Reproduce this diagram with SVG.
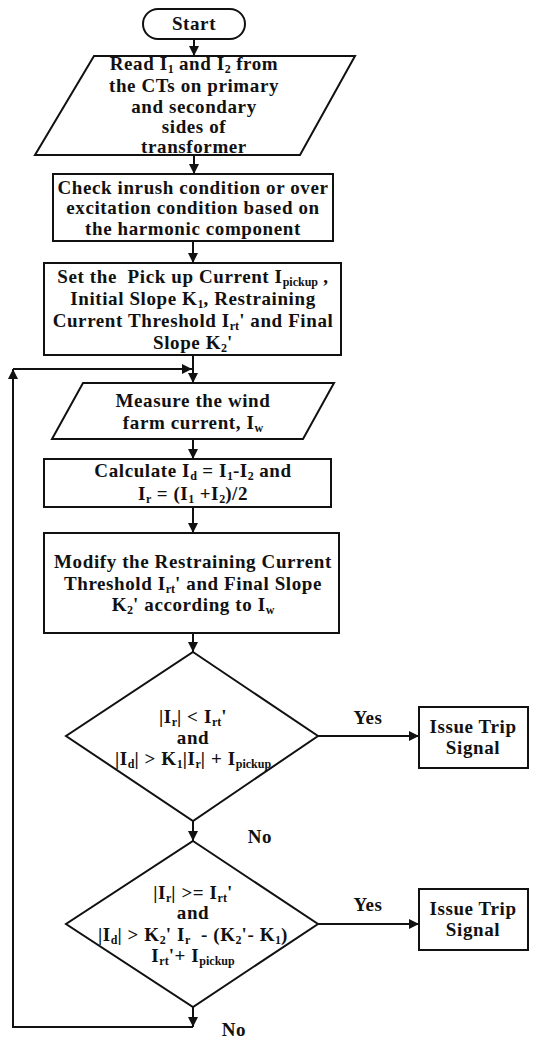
<svg xmlns="http://www.w3.org/2000/svg" width="559" height="1039" viewBox="0 0 559 1039">
<style>
.n{fill:#fff;stroke:#111;stroke-width:2}
.c{fill:none;stroke:#111;stroke-width:2}
text{font-family:"Liberation Serif","Times New Roman",serif;font-weight:bold;font-size:19px;letter-spacing:0.6px;fill:#111;text-anchor:middle}
.s{font-size:12px;letter-spacing:0;baseline-shift:-3px}
</style>
<defs>
<marker id="a" markerUnits="userSpaceOnUse" markerWidth="10" markerHeight="10" refX="10" refY="5" orient="auto"><path d="M0,0 L10,5 L0,10 Z" fill="#111"/></marker>
</defs>
<rect width="559" height="1039" fill="#fff"/>
<g id="connectors">
<path class="c" d="M194,39 V56" marker-end="url(#a)"/>
<path class="c" d="M194,155 V174" marker-end="url(#a)"/>
<path class="c" d="M193,241 V263" marker-end="url(#a)"/>
<path class="c" d="M193,355 V383" marker-end="url(#a)"/>
<path class="c" d="M193,439 V459" marker-end="url(#a)"/>
<path class="c" d="M193,507 V533" marker-end="url(#a)"/>
<path class="c" d="M193,633 V652" marker-end="url(#a)"/>
<path class="c" d="M193,821 V841" marker-end="url(#a)"/>
<path class="c" d="M193,1007 V1027" marker-end="url(#a)"/>
<path class="c" d="M193,1027 H13 V369" marker-end="url(#a)"/>
<path class="c" d="M13,369 H192" marker-end="url(#a)"/>
<path class="c" d="M318,736 H419" marker-end="url(#a)"/>
<path class="c" d="M318,924 H419" marker-end="url(#a)"/>
<text x="368" y="724">Yes</text>
<text x="260" y="843">No</text>
<text x="368" y="911">Yes</text>
<text x="234" y="1036">No</text>
</g>
<g id="start">
<rect class="n" x="143" y="9" width="102" height="30" rx="15"/>
<text x="194" y="30">Start</text>
</g>
<g id="read">
<polygon class="n" points="94,56 355,56 300,155 35,155"/>
<text x="194" y="70">Read I<tspan class="s">1</tspan> and I<tspan class="s">2</tspan> from</text>
<text x="194" y="92">the CTs on primary</text>
<text x="194" y="113">and secondary</text>
<text x="194" y="133">sides of</text>
<text x="194" y="153">transformer</text>
</g>
<g id="check">
<rect class="n" x="53" y="174" width="280" height="67"/>
<text x="193" y="194">Check inrush condition or over</text>
<text x="193" y="214">excitation condition based on</text>
<text x="193" y="235">the harmonic component</text>
</g>
<g id="set">
<rect class="n" x="44" y="263" width="297" height="92"/>
<text x="193" y="283">Set the &#160;Pick up Current I<tspan class="s">pickup</tspan> ,</text>
<text x="193" y="305">Initial Slope K<tspan class="s">1</tspan>, Restraining</text>
<text x="193" y="327">Current Threshold I<tspan class="s">rt</tspan>' and Final</text>
<text x="193" y="349">Slope K<tspan class="s">2</tspan>'</text>
</g>
<g id="measure">
<polygon class="n" points="83,383 334,383 303,439 52,439"/>
<text x="193" y="407">Measure the wind</text>
<text x="193" y="429">farm current, I<tspan class="s">w</tspan></text>
</g>
<g id="calc">
<rect class="n" x="44" y="459" width="287" height="48"/>
<text x="193" y="477">Calculate I<tspan class="s">d</tspan> = I<tspan class="s">1</tspan>-I<tspan class="s">2</tspan> and</text>
<text x="193" y="500">I<tspan class="s">r</tspan> = (I<tspan class="s">1</tspan> +I<tspan class="s">2</tspan>)/2</text>
</g>
<g id="modify">
<rect class="n" x="44" y="533" width="295" height="100"/>
<text x="193" y="568">Modify the Restraining Current</text>
<text x="193" y="590">Threshold I<tspan class="s">rt</tspan>' and Final Slope</text>
<text x="193" y="611">K<tspan class="s">2</tspan>' according to I<tspan class="s">w</tspan></text>
</g>
<g id="decision1">
<polygon class="n" points="193,652 318,736 193,821 66,736"/>
<text x="193" y="723">|I<tspan class="s">r</tspan>| &lt; I<tspan class="s">rt</tspan>'</text>
<text x="193" y="744">and</text>
<text x="193" y="765">|I<tspan class="s">d</tspan>| &gt; K<tspan class="s">1</tspan>|I<tspan class="s">r</tspan>| + I<tspan class="s">pickup</tspan></text>
</g>
<g id="decision2">
<polygon class="n" points="193,841 318,924 193,1007 66,924"/>
<text x="193" y="899">|I<tspan class="s">r</tspan>| &gt;= I<tspan class="s">rt</tspan>'</text>
<text x="193" y="919">and</text>
<text x="193" y="941">|I<tspan class="s">d</tspan>| &gt; K<tspan class="s">2</tspan>' I<tspan class="s">r</tspan> &#160;- (K<tspan class="s">2</tspan>'- K<tspan class="s">1</tspan>)</text>
<text x="193" y="962">I<tspan class="s">rt</tspan>'+ I<tspan class="s">pickup</tspan></text>
</g>
<g id="trip1">
<rect class="n" x="419" y="707" width="109" height="61"/>
<text x="473" y="733">Issue Trip</text>
<text x="473" y="754">Signal</text>
</g>
<g id="trip2">
<rect class="n" x="419" y="889" width="109" height="61"/>
<text x="473" y="915">Issue Trip</text>
<text x="473" y="936">Signal</text>
</g>
</svg>
